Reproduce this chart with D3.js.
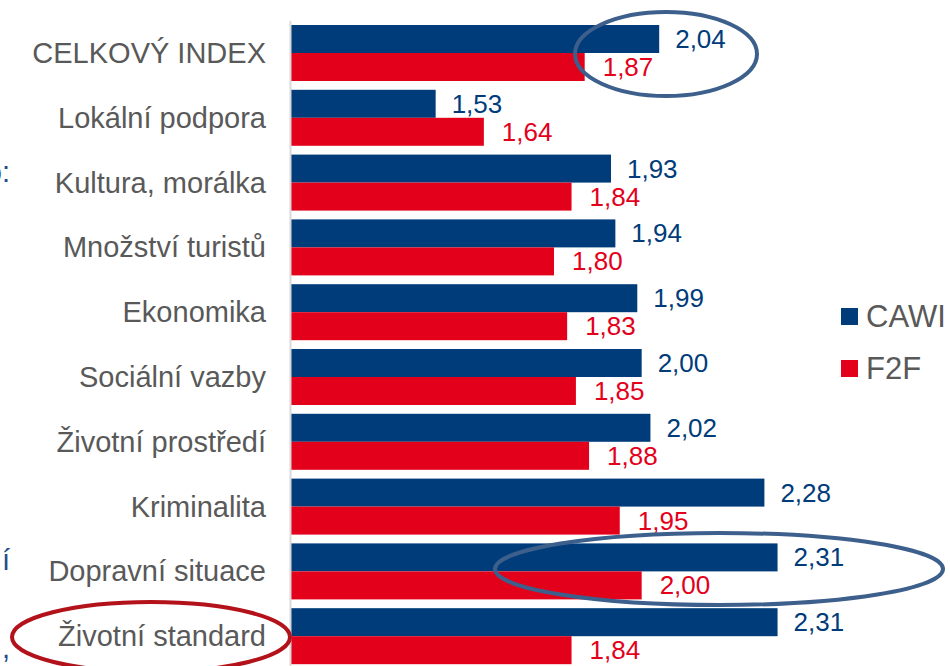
<!DOCTYPE html>
<html>
<head>
<meta charset="utf-8">
<script src="https://cdn.jsdelivr.net/npm/d3@7"></script>
<style>
  body { margin: 0; background: #fff; }
  svg { display: block; font-family: "Liberation Sans", Arial, sans-serif; }
</style>
</head>
<body>
<div id="chart"></div>
<script>
// data
const categories = ["CELKOVÝ INDEX", "Lokální podpora", "Kultura, morálka", "Množství turistů",
  "Ekonomika", "Sociální vazby", "Životní prostředí", "Kriminalita", "Dopravní situace", "Životní standard"];
const seriesNames = ["CAWI", "F2F"];
const cawi = [2.04, 1.53, 1.93, 1.94, 1.99, 2.00, 2.02, 2.28, 2.31, 2.31];
const f2f = [1.87, 1.64, 1.84, 1.80, 1.83, 1.85, 1.88, 1.95, 2.00, 1.84];
const colors = ["#003B7A", "#E3001B"];

const width = 950, height = 666;

const svg = d3.select("#chart")
    .append("svg")
    .attr("width", width)
    .attr("height", height);

const x = d3.scaleLinear().domain([1.2, 2.4]).range([291, 817]);

const step = 64.8;
const y = d3.scaleBand()
    .domain(categories)
    .range([25 - 0.068 * step, 25 - 0.068 * step + step * categories.length])
    .paddingInner(0.136)
    .paddingOuter(0.068);

const ySub = d3.scaleBand().domain(seriesNames).range([0, y.bandwidth()]);

const rows = categories.map((c, i) => ({ cat: c, values: [cawi[i], f2f[i]] }));

const fmt = v => d3.format(".2f")(v).replace(".", ",");

// bars
const groups = svg.selectAll(".grp")
    .data(rows)
    .enter().append("g")
    .attr("class", "grp")
    .attr("transform", d => "translate(0," + y(d.cat) + ")");

groups.selectAll("rect")
    .data(d => d.values.map((v, j) => ({ v: v, s: seriesNames[j], j: j })))
    .enter().append("rect")
    .attr("x", x(1.2))
    .attr("y", d => ySub(d.s))
    .attr("width", d => x(d.v) - x(1.2))
    .attr("height", ySub.bandwidth())
    .attr("fill", d => colors[d.j]);

groups.selectAll(".val")
    .data(d => d.values.map((v, j) => ({ v: v, s: seriesNames[j], j: j })))
    .enter().append("text")
    .attr("class", "val")
    .attr("x", d => x(d.v) + (d.j === 0 ? 16 : 18))
    .attr("y", d => ySub(d.s) + ySub.bandwidth() / 2 + 9)
    .attr("font-size", 26)
    .attr("fill", d => colors[d.j])
    .text(d => fmt(d.v));

// category labels
svg.selectAll(".cat")
    .data(categories)
    .enter().append("text")
    .attr("class", "cat")
    .attr("x", 266)
    .attr("y", d => y(d) + y.bandwidth() / 2 + 10)
    .attr("text-anchor", "end")
    .attr("font-size", 29)
    .attr("fill", "#595959")
    .text(d => d);

// axis line
svg.append("line")
    .attr("x1", 290.5).attr("x2", 290.5)
    .attr("y1", 21).attr("y2", height)
    .attr("stroke", "#D9D9D9")
    .attr("stroke-width", 2);

// legend
const legend = svg.selectAll(".leg")
    .data(seriesNames)
    .enter().append("g")
    .attr("class", "leg")
    .attr("transform", (d, i) => "translate(841," + (308 + i * 52) + ")");

legend.append("rect")
    .attr("width", 17).attr("height", 17)
    .attr("fill", (d, i) => colors[i]);

legend.append("text")
    .attr("x", 25)
    .attr("y", 19)
    .attr("font-size", 31)
    .attr("fill", "#595959")
    .text(d => d);

// cut-off text at left edge (from the slide)
const edgeText = [{ t: "o:", y: 182 }, { t: "í", y: 570 }, { t: ",", y: 658 }];
svg.selectAll(".edge")
    .data(edgeText)
    .enter().append("text")
    .attr("x", 10)
    .attr("y", d => d.y)
    .attr("text-anchor", "end")
    .attr("font-size", 29)
    .attr("fill", "#1F4E8C")
    .text(d => d.t);

// highlight ellipses
const ellipses = [
  { cx: 666, cy: 54, rx: 91, ry: 42, c: "#3D5F8C" },
  { cx: 719, cy: 569, rx: 224, ry: 36, c: "#3D5F8C" },
  { cx: 151, cy: 637, rx: 139, ry: 35, c: "#B3121B" }
];
svg.selectAll(".ell")
    .data(ellipses)
    .enter().append("ellipse")
    .attr("cx", d => d.cx).attr("cy", d => d.cy)
    .attr("rx", d => d.rx).attr("ry", d => d.ry)
    .attr("fill", "none")
    .attr("stroke", d => d.c)
    .attr("stroke-width", 4);
</script>
</body>
</html>
